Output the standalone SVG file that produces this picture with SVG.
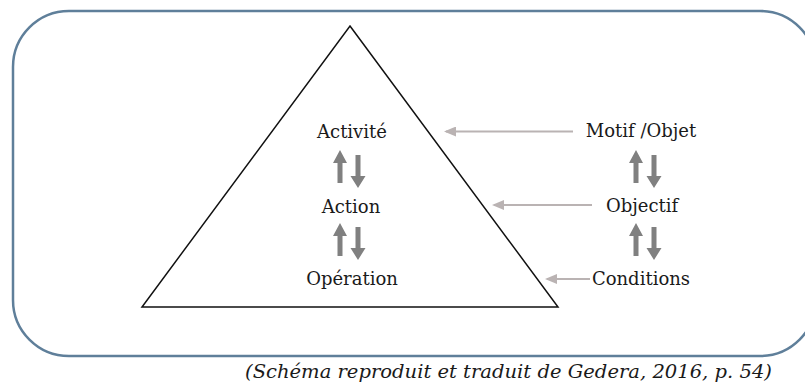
<svg xmlns="http://www.w3.org/2000/svg" width="805" height="390" viewBox="0 0 805 390">
<defs>
<style>
.lbl{font-family:"DejaVu Serif","Liberation Serif",serif;font-size:18px;fill:#1a1a1a;text-anchor:middle}
.cap{font-family:"DejaVu Serif","Liberation Serif",serif;font-size:19px;font-style:italic;fill:#1a1a1a}
.va{fill:#808080}
.ha{stroke:#bab3b3;stroke-width:2;fill:none}
</style>
<marker id="gh" viewBox="0 0 12 10" refX="10" refY="5" markerWidth="12" markerHeight="10" markerUnits="userSpaceOnUse" orient="auto">
<path d="M12,5 L0,0 L0,10 Z" fill="#bab3b3"/>
</marker>
<g id="up"><polygon points="0,0 7,13 2.5,13 2.5,33 -2.5,33 -2.5,13 -7,13"/></g>
<g id="dn"><polygon points="-2.5,0 2.5,0 2.5,21 7.5,21 0,33 -7.5,21 -2.5,21"/></g>
</defs>
<rect id="frame" x="13" y="11" width="803" height="345" rx="56" ry="56" fill="none" stroke="#5f7f9a" stroke-width="2.5"/>
<g id="triangle"><polygon points="350,26 558,307 142,307" fill="none" stroke="#111" stroke-width="1.5" stroke-linejoin="miter"/></g>
<g id="activite"><text class="lbl" x="352" y="138">Activité</text></g>
<g id="action"><text class="lbl" x="351" y="213">Action</text></g>
<g id="operation"><text class="lbl" x="352" y="285">Opération</text></g>
<g id="motif"><text class="lbl" x="641" y="137">Motif /Objet</text></g>
<g id="objectif"><text class="lbl" x="642" y="212">Objectif</text></g>
<g id="conditions"><text class="lbl" x="641" y="285">Conditions</text></g>
<g id="connectors">
<g class="va">
<use href="#up" x="340" y="150"/><use href="#dn" x="358" y="155"/>
<use href="#up" x="340" y="223"/><use href="#dn" x="358" y="227"/>
<use href="#up" x="636" y="150"/><use href="#dn" x="654" y="155"/>
<use href="#up" x="636" y="223"/><use href="#dn" x="654" y="227"/>
</g>
<line class="ha" x1="573" y1="131.5" x2="446" y2="131.5" marker-end="url(#gh)"/>
<line class="ha" x1="592" y1="205" x2="494" y2="205" marker-end="url(#gh)"/>
<line class="ha" x1="590" y1="279" x2="547" y2="279" marker-end="url(#gh)"/>
</g>
<text class="cap" x="245" y="378" textLength="527" lengthAdjust="spacingAndGlyphs">(Schéma reproduit et traduit de Gedera, 2016, p. 54)</text>
</svg>
